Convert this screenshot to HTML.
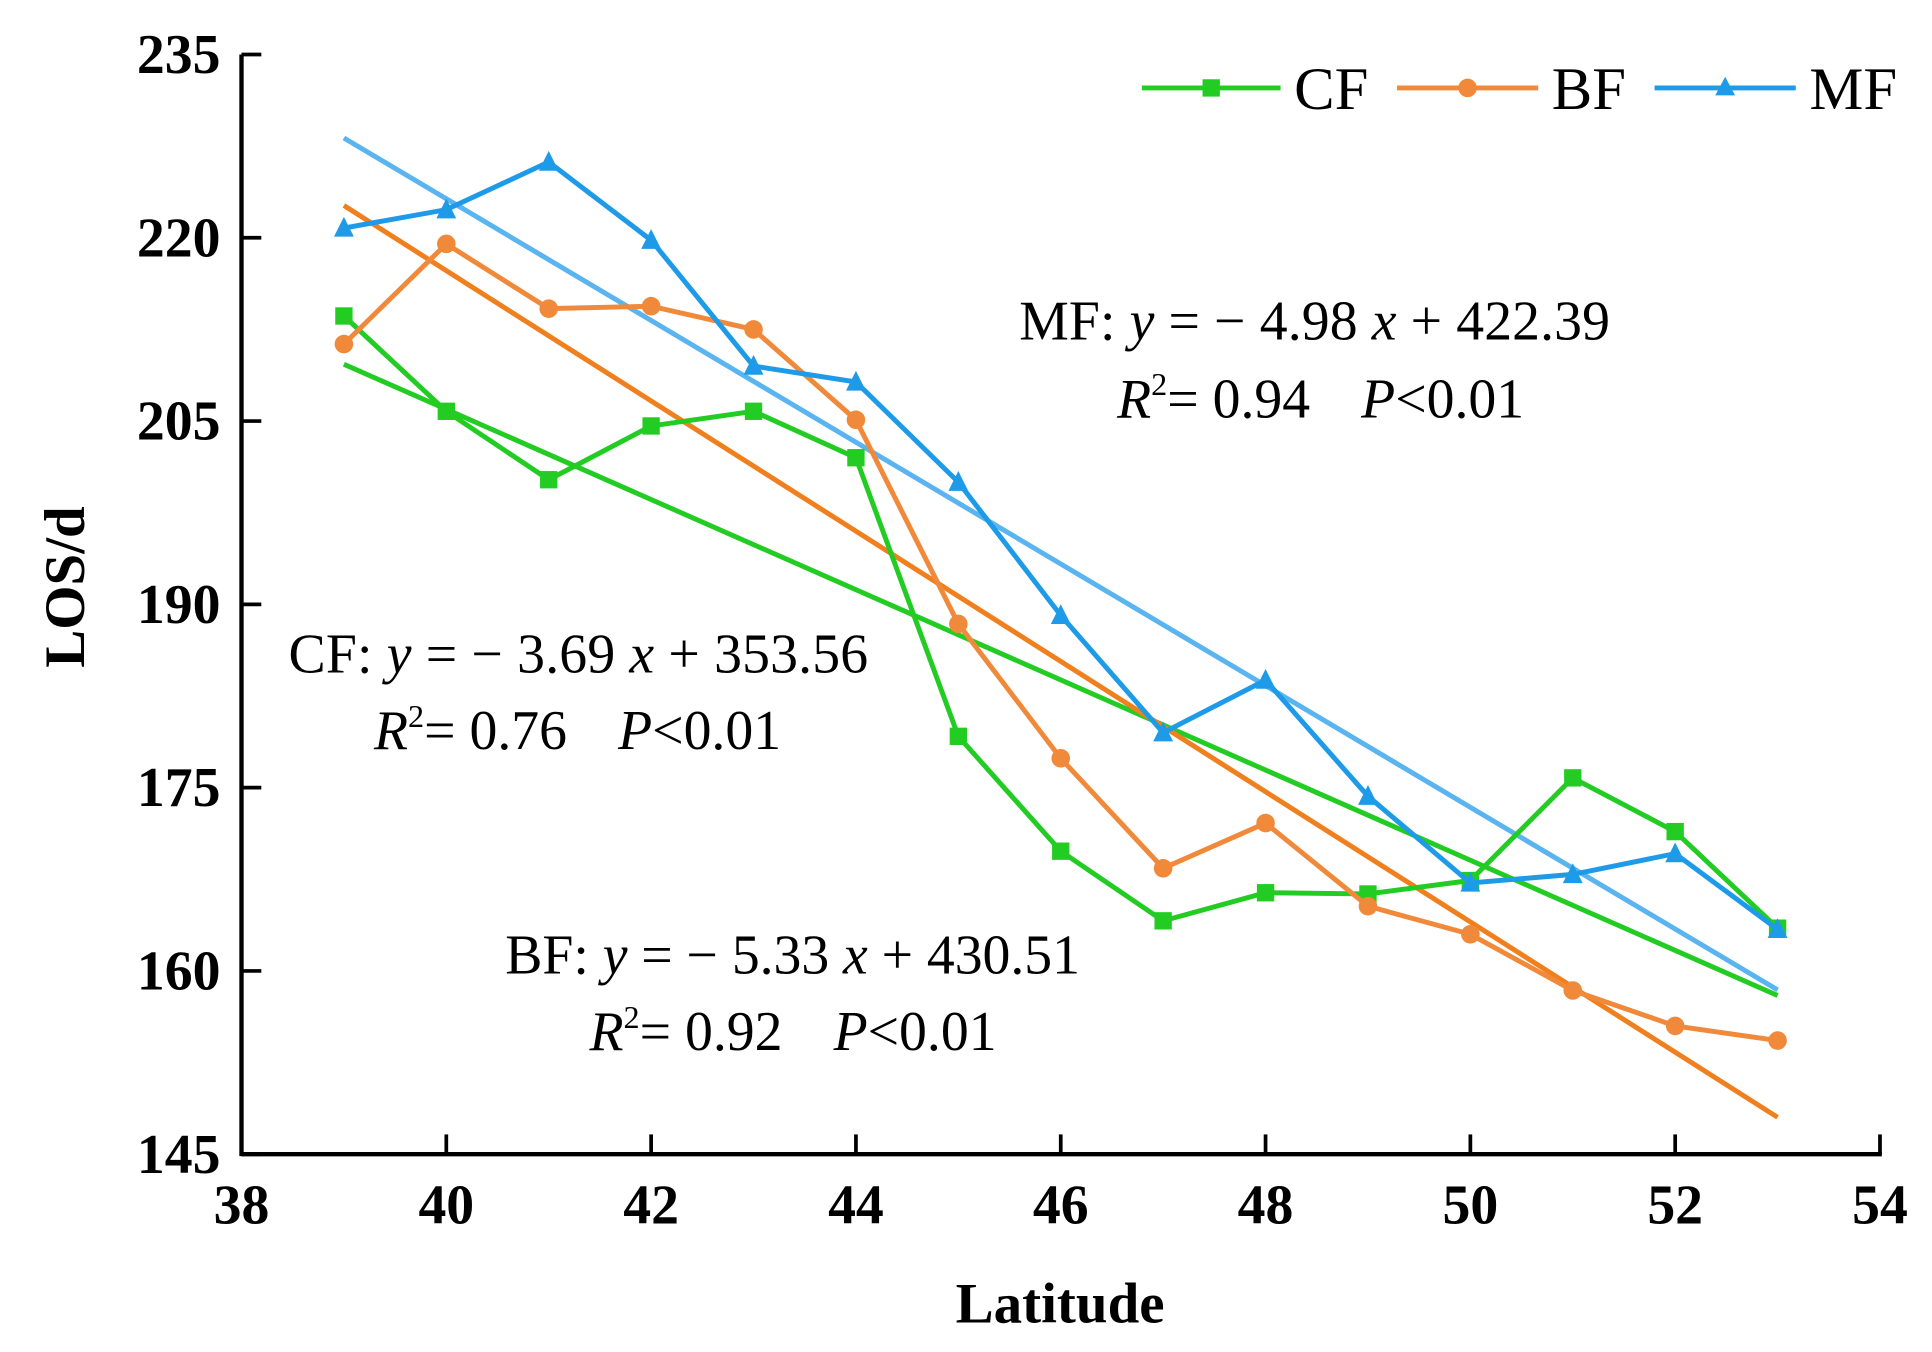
<!DOCTYPE html>
<html><head><meta charset="utf-8"><style>
html,body{margin:0;padding:0;background:#fff}
svg{display:block}
text{font-family:"Liberation Serif",serif}
</style></head><body>
<svg id="chart" width="1932" height="1352" viewBox="0 0 1560 1091.7" preserveAspectRatio="none" xmlns="http://www.w3.org/2000/svg">
<g id="axes"></g>
<g id="trends"></g>
<g id="series"></g>
<g font-size="49">
  <g>
    <line x1="922" y1="71" x2="1034" y2="71" stroke="#22cc22" stroke-width="4"/>
    <rect x="971" y="64" width="14" height="14" fill="#22cc22"/>
    <text x="1045" y="88">CF</text></g>
  <g>
    <line x1="1128" y1="71" x2="1242" y2="71" stroke="#f08a3a" stroke-width="4"/>
    <circle cx="1185" cy="71" r="7.5" fill="#f08a3a"/>
    <text x="1253" y="88">BF</text></g>
  <g>
    <line x1="1336" y1="71" x2="1450" y2="71" stroke="#1e9be8" stroke-width="4"/>
    <polygon points="1393,62 1401,77 1385,77" fill="#1e9be8"/>
    <text x="1461" y="88">MF</text></g>
</g>
<g font-size="45">
  <text x="823" y="274" textLength="477">MF: <tspan font-style="italic">y</tspan> = − 4.98 <tspan font-style="italic">x</tspan> + 422.39</text>
  <text x="902" y="337"><tspan font-style="italic">R</tspan><tspan font-size="26" dy="-18">2</tspan><tspan dy="18">= 0.94 </tspan><tspan dx="30" font-style="italic">P</tspan>&lt;0.01</text>
  <text x="233" y="543" textLength="468">CF: <tspan font-style="italic">y</tspan> = − 3.69 <tspan font-style="italic">x</tspan> + 353.56</text>
  <text x="302" y="605"><tspan font-style="italic">R</tspan><tspan font-size="26" dy="-18">2</tspan><tspan dy="18">= 0.76 </tspan><tspan dx="30" font-style="italic">P</tspan>&lt;0.01</text>
  <text x="408" y="786" textLength="464">BF: <tspan font-style="italic">y</tspan> = − 5.33 <tspan font-style="italic">x</tspan> + 430.51</text>
  <text x="476" y="848"><tspan font-style="italic">R</tspan><tspan font-size="26" dy="-18">2</tspan><tspan dy="18">= 0.92 </tspan><tspan dx="30" font-style="italic">P</tspan>&lt;0.01</text>
</g>
<text x="856" y="1068" font-size="46" font-weight="bold" text-anchor="middle">Latitude</text>
<text transform="translate(68,474) rotate(-90)" font-size="46" font-weight="bold" text-anchor="middle">LOS/d</text>
</svg>
<script>
const latitudes=[39,40,41,42,43,44,45,46,47,48,49,50,51,52,53];
const cfValues=[213.6,205.8,200.2,204.6,205.8,202.0,179.2,169.8,164.1,166.4,166.3,167.4,175.8,171.4,163.5];
const bfValues=[211.3,219.5,214.2,214.4,212.5,205.1,188.4,177.4,168.4,172.1,165.3,163.0,158.4,155.5,154.3];
const mfValues=[220.8,222.3,226.2,219.8,209.5,208.2,200.0,189.1,179.5,183.8,174.3,167.2,167.9,169.6,163.4];
const cfFit=[-3.69,353.56];
const bfFit=[-5.33,430.51];
const mfFit=[-4.98,422.39];
const xTicks=[38,40,42,44,46,48,50,52,54];
const yTicks=[145,160,175,190,205,220,235];

const NS='http://www.w3.org/2000/svg';
const X0=195,X1=1518,Y0=932,Y1=44;
const xs=v=>X0+(v-38)/(54-38)*(X1-X0);
const ys=v=>Y0-(v-145)/(235-145)*(Y0-Y1);
function mk(tag,attrs,parent){const e=document.createElementNS(NS,tag);for(const k in attrs)e.setAttribute(k,attrs[k]);parent.appendChild(e);return e;}
const axes=document.getElementById('axes');
let a=mk('line',{x1:X0,y1:Y0,x2:X1+1.5,y2:Y0,stroke:'#000','stroke-width':3.5},axes);


a=mk('line',{x1:X0,y1:Y1,x2:X0,y2:Y0+1.5,stroke:'#000','stroke-width':3.5},axes);


xTicks.forEach(t=>{
  mk('line',{x1:xs(t),y1:Y0,x2:xs(t),y2:Y0-16,stroke:'#000','stroke-width':3},axes);
  const tx=mk('text',{x:xs(t),y:Y0+56,'font-size':45,'font-weight':'bold','text-anchor':'middle'},axes);
  tx.textContent=t;
  
  
});
yTicks.forEach(t=>{
  mk('line',{x1:X0,y1:ys(t),x2:X0+16,y2:ys(t),stroke:'#000','stroke-width':3},axes);
  const tx=mk('text',{x:X0-17,y:ys(t)+15,'font-size':45,'font-weight':'bold','text-anchor':'end'},axes);
  tx.textContent=t;
  
  
});
const trends=document.getElementById('trends');
[[cfFit,'#22cc22','cf'],[bfFit,'#f0801e','bf'],[mfFit,'#5ab4f0','mf']].forEach(([f,c,n])=>{
  const xa=latitudes[0],xb=latitudes[latitudes.length-1];
  const l=mk('line',{x1:xs(xa),y1:ys(f[0]*xa+f[1]),x2:xs(xb),y2:ys(f[0]*xb+f[1]),stroke:c,'stroke-width':4},trends);
  
  
});
const series=document.getElementById('series');
[[cfValues,'#22cc22','cf','sq'],[bfValues,'#f08a3a','bf','ci'],[mfValues,'#1e9be8','mf','tr']].forEach(([vals,c,n,m])=>{
  const g=mk('g',{},series);
  
  
  const p=mk('polyline',{points:vals.map((v,i)=>xs(latitudes[i])+','+ys(v)).join(' '),fill:'none',stroke:c,'stroke-width':4},g);
  
  
  vals.forEach((v,i)=>{
    const x=xs(latitudes[i]),y=ys(v);let e;
    if(m==='sq')e=mk('rect',{x:x-7,y:y-7,width:14,height:14,fill:c},g);
    else if(m==='ci')e=mk('circle',{cx:x,cy:y,r:7.5,fill:c},g);
    else e=mk('polygon',{points:`${x},${y-9} ${x+8},${y+7} ${x-8},${y+7}`,fill:c},g);
    
    
  });
});
</script>
</body></html>
